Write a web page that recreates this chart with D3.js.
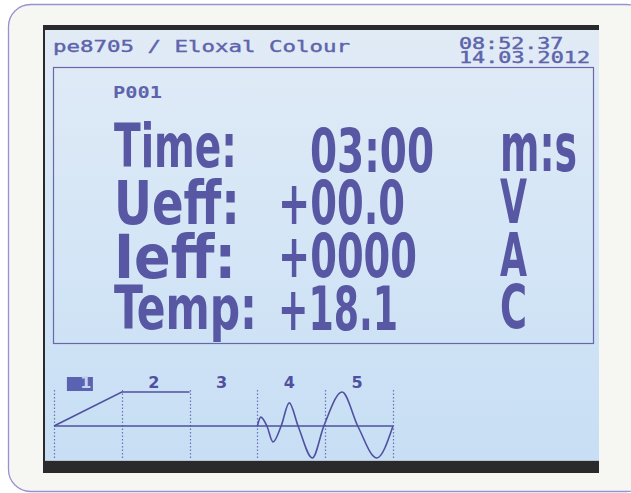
<!DOCTYPE html>
<html>
<head>
<meta charset="utf-8">
<style>
  body { margin: 0; background: #ffffff; }
  svg { display: block; }
  .big { font-family: "DejaVu Sans Condensed", "DejaVu Sans", sans-serif; font-stretch: condensed; font-weight: bold; }
  .mono { font-family: "DejaVu Sans Mono", "Liberation Mono", monospace; }
</style>
<script src="https://d3js.org/d3.v7.min.js"></script>
</head>
<body>
<svg width="631" height="493"></svg>
<script>
// display texts
var titleText = "pe8705 / Eloxal Colour";
var clockLines = ["08:52.37", "14.03.2012"];
var programName = "P001";

var rowLabels = ["Time:", "Ueff:", "Ieff:", "Temp:"];
var rowValues = ["03:00", "+00.0", "+0000", "+18.1"];
var rowUnits  = ["m:s", "V", "A", "C"];

// program profile (bottom strip), time in steps, level relative
var stepLabels = ["1", "2", "3", "4", "5"];
var activeStep = "1";
var rampT = [0, 1, 2];
var rampV = [0, 1, 1];
var waveT = [3.00, 3.05, 3.14, 3.23, 3.35, 3.47, 3.60, 3.81, 3.98, 4.25, 4.48, 4.76, 5.00];
var waveV = [0, 0.26, 0, -0.47, 0, 0.68, 0, -0.94, 0, 1.0, 0, -0.94, 0];

// layout (px)
var labelBase = [167, 224, 278, 329], labelLen = [123, 126, 122, 143];
var valueX = [310, 278, 278, 278], valueBase = [172, 224, 277, 330], valueLen = [124, 127, 139, 120];
var unitBase = [171, 223, 276, 328], unitLen = [77, 27, 27, 27];

var ink = "#5857a3";

var svg = d3.select("svg");

var grad = svg.append("defs").append("linearGradient")
    .attr("id", "lcd").attr("x1", 0).attr("y1", 0).attr("x2", 0).attr("y2", 1);
grad.append("stop").attr("offset", "0%").attr("stop-color", "#e1ebf6");
grad.append("stop").attr("offset", "55%").attr("stop-color", "#d3e5f6");
grad.append("stop").attr("offset", "100%").attr("stop-color", "#c7def4");

// device frame
svg.append("rect")
    .attr("x", 8.5).attr("y", 4.5).attr("width", 640).attr("height", 487).attr("rx", 22)
    .attr("fill", "#f6f6f3").attr("stroke", "#9692cf").attr("stroke-width", 1.3);

// lcd glass + bezel
svg.append("rect").attr("x", 43).attr("y", 25).attr("width", 556).attr("height", 448).attr("fill", "#2a2a2d");
svg.append("rect").attr("x", 45).attr("y", 30).attr("width", 554).attr("height", 430).attr("fill", "url(#lcd)");
svg.append("line").attr("x1", 45).attr("x2", 599).attr("y1", 460.5).attr("y2", 460.5)
    .attr("stroke", "#b9c3cc").attr("stroke-width", 1);

// header
svg.append("text").attr("class", "mono")
    .attr("x", 53).attr("y", 52)
    .attr("font-size", 16.5).attr("fill", "#5d64ab")
    .attr("stroke", "#5d64ab").attr("stroke-width", 0.4)
    .attr("textLength", 297).attr("lengthAdjust", "spacingAndGlyphs")
    .text(titleText);

svg.selectAll(".clock").data(clockLines).enter().append("text")
    .attr("class", "mono clock")
    .attr("x", 459).attr("y", function(d, i) { return 49 + i * 14; })
    .attr("font-size", 15).attr("fill", "#5d64ab")
    .attr("stroke", "#5d64ab").attr("stroke-width", 0.4)
    .attr("textLength", function(d) { return d.length * 13.3 - 2; }).attr("lengthAdjust", "spacingAndGlyphs")
    .text(function(d) { return d; });

// measurement box
svg.append("rect")
    .attr("x", 53.5).attr("y", 67.5).attr("width", 540).attr("height", 276)
    .attr("fill", "none").attr("stroke", "#6b67ab").attr("stroke-width", 1.2);

svg.append("text").attr("class", "mono")
    .attr("x", 113).attr("y", 98)
    .attr("font-size", 15).attr("font-weight", "bold").attr("fill", "#5d64ab")
    .attr("textLength", 49).attr("lengthAdjust", "spacingAndGlyphs")
    .text(programName);

var rows = svg.append("g").attr("class", "big").attr("fill", ink).attr("font-size", 60);

rows.selectAll(".lbl").data(rowLabels).enter().append("text")
    .attr("class", "lbl")
    .attr("x", 114).attr("y", function(d, i) { return labelBase[i]; })
    .attr("textLength", function(d, i) { return labelLen[i]; }).attr("lengthAdjust", "spacingAndGlyphs")
    .text(function(d) { return d; });

rows.selectAll(".val").data(rowValues).enter().append("text")
    .attr("class", "val")
    .attr("x", function(d, i) { return valueX[i]; }).attr("y", function(d, i) { return valueBase[i]; })
    .attr("textLength", function(d, i) { return valueLen[i]; }).attr("lengthAdjust", "spacingAndGlyphs")
    .text(function(d) { return d; });

rows.selectAll(".unit").data(rowUnits).enter().append("text")
    .attr("class", "unit")
    .attr("x", 500).attr("y", function(d, i) { return unitBase[i]; })
    .attr("font-size", function(d, i) { return i === 0 ? 68 : 60; })
    .attr("textLength", function(d, i) { return unitLen[i]; }).attr("lengthAdjust", "spacingAndGlyphs")
    .text(function(d) { return d; });

// profile strip
var x = d3.scaleLinear().domain([0, stepLabels.length]).range([54, 393]);
var y = d3.scaleLinear().domain([-1, 1]).range([460, 392]);
var prof = svg.append("g");

var bounds = [0].concat(stepLabels.map(function(d, i) { return i + 1; }));
prof.selectAll(".div").data(bounds).enter().append("line")
    .attr("x1", function(d) { return Math.round(x(d)) + 0.5; })
    .attr("x2", function(d) { return Math.round(x(d)) + 0.5; })
    .attr("y1", y(1) - 2).attr("y2", y(-0.97))
    .attr("stroke", "#6a70bb").attr("stroke-width", 1.2).attr("stroke-dasharray", "1.5,2");

prof.append("line")
    .attr("x1", x(0)).attr("x2", x(stepLabels.length)).attr("y1", y(0)).attr("y2", y(0))
    .attr("stroke", "#4f50a0").attr("stroke-width", 1.6);

var line = d3.line().x(function(d) { return x(d[0]); }).y(function(d) { return y(d[1]); });

prof.append("path")
    .datum(rampT.map(function(t, i) { return [t, rampV[i]]; }))
    .attr("fill", "none").attr("stroke", "#4f50a0").attr("stroke-width", 1.6)
    .attr("d", line);

prof.append("path")
    .datum(waveT.map(function(t, i) { return [t, waveV[i]]; }))
    .attr("fill", "none").attr("stroke", "#4f50a0").attr("stroke-width", 1.6)
    .attr("d", line.curve(d3.curveMonotoneX));

var steps = prof.selectAll(".step").data(stepLabels).enter().append("g")
    .attr("transform", function(d, i) { return "translate(" + (x(i + 0.5) - 2) + ",388)"; });

steps.filter(function(d) { return d === activeStep; }).append("rect")
    .attr("x", -19).attr("y", -11).attr("width", 26).attr("height", 14)
    .attr("fill", "#5a62b2");

steps.append("text")
    .attr("text-anchor", "middle")
    .attr("font-family", "DejaVu Sans, sans-serif").attr("font-weight", "bold").attr("font-size", 16)
    .attr("fill", function(d) { return d === activeStep ? "#c3d4ef" : "#4f50a0"; })
    .text(function(d) { return d; });
</script>
</body>
</html>
